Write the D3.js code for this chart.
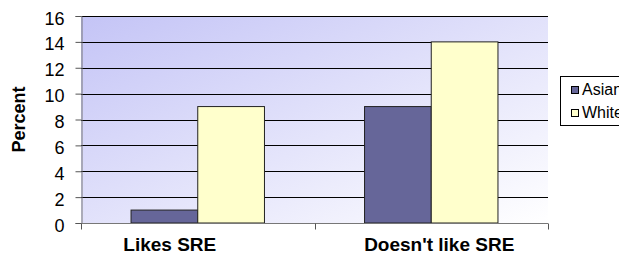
<!DOCTYPE html>
<html>
<head>
<meta charset="utf-8">
<script src="https://cdn.jsdelivr.net/npm/d3@7"></script>
<style>
  body { margin: 0; background: #fff; overflow: hidden; }
  text { font-family: Arial, "Liberation Sans", sans-serif; }
</style>
</head>
<body>
<div id="chart"></div>
<script>
var categories = ["Likes SRE", "Doesn't like SRE"];
var seriesNames = ["Asian", "White"];
var asianValues = [1, 9];
var whiteValues = [9, 14];
var yTicks = [0, 2, 4, 6, 8, 10, 12, 14, 16];
var colors = ["#666699", "#ffffcc"];
// label shift from the category centre, as in the picture
var labelShift = [-28, 8];

var width = 619, height = 262;
var plotLeft = 81, plotRight = 548, plotTop = 16, plotBottom = 223;

var svg = d3.select("#chart")
    .append("svg")
      .attr("width", width)
      .attr("height", height);

var defs = svg.append("defs");
var grad = defs.append("linearGradient")
    .attr("id", "bg")
    .attr("x1", "0%").attr("y1", "0%")
    .attr("x2", "100%").attr("y2", "100%");
grad.append("stop").attr("offset", "0%").attr("stop-color", "#c4c4f6");
grad.append("stop").attr("offset", "100%").attr("stop-color", "#ffffff");

svg.append("rect")
    .attr("x", plotLeft).attr("y", plotTop)
    .attr("width", plotRight - plotLeft).attr("height", plotBottom - plotTop)
    .style("fill", "url(#bg)");

var x0 = d3.scaleBand()
    .domain(categories)
    .range([plotLeft, plotRight])
    .paddingInner(0).paddingOuter(0);

var bw = x0.bandwidth() / 3.5;
var x1 = d3.scaleBand()
    .domain(seriesNames)
    .range([x0.bandwidth() / 2 - bw, x0.bandwidth() / 2 + bw]);

var y = d3.scaleLinear().domain([0, 16]).range([plotBottom, plotTop]);

// gridlines
svg.append("g")
  .selectAll("line")
  .data(yTicks.filter(function(d) { return d > 0; }))
  .enter()
  .append("line")
    .attr("x1", plotLeft).attr("x2", plotRight)
    .attr("y1", function(d) { return Math.round(y(d)) + 0.5; })
    .attr("y2", function(d) { return Math.round(y(d)) + 0.5; })
    .style("stroke", "#000")
    .style("stroke-width", 1);

var data = categories.map(function(c, i) {
  return { cat: c, values: [asianValues[i], whiteValues[i]] };
});

var groups = svg.append("g")
  .selectAll("g")
  .data(data)
  .enter()
  .append("g")
    .attr("transform", function(d) { return "translate(" + x0(d.cat) + ",0)"; });

groups.selectAll("rect")
  .data(function(d) { return d.values.map(function(v, j) { return { name: seriesNames[j], v: v, j: j }; }); })
  .enter()
  .append("rect")
    .attr("x", function(d) { return x1(d.name); })
    .attr("y", function(d) { return y(d.v); })
    .attr("width", x1.bandwidth())
    .attr("height", function(d) { return plotBottom - y(d.v); })
    .style("fill", function(d) { return colors[d.j]; })
    .style("stroke", "#222")
    .style("stroke-width", 1);

// y axis
var yAxis = svg.append("g")
    .attr("transform", "translate(" + (plotLeft + 0.5) + ",0)")
    .call(d3.axisLeft(y).tickValues(yTicks).tickSize(6).tickPadding(11));
yAxis.select(".domain").attr("stroke", "#777");
yAxis.selectAll(".tick line").attr("stroke", "#555");
yAxis.selectAll("text")
    .style("font-size", "18px")
    .style("fill", "#000")
    .attr("dy", "0.45em");

// x axis
var xAxis = svg.append("g")
    .attr("transform", "translate(0," + (plotBottom + 0.5) + ")");
xAxis.append("line")
    .attr("x1", plotLeft).attr("x2", plotRight)
    .attr("stroke", "#777");
xAxis.selectAll("line.tk")
  .data([plotLeft, x0(categories[1]), plotRight])
  .enter()
  .append("line")
    .attr("class", "tk")
    .attr("x1", function(d) { return Math.round(d) + 0.5; })
    .attr("x2", function(d) { return Math.round(d) + 0.5; })
    .attr("y1", 0).attr("y2", 6)
    .attr("stroke", "#555");
xAxis.selectAll("text")
  .data(categories)
  .enter()
  .append("text")
    .attr("x", function(d, i) { return x0(d) + x0.bandwidth() / 2 + labelShift[i]; })
    .attr("y", 27)
    .attr("text-anchor", "middle")
    .style("font-size", "19px")
    .style("font-weight", "bold")
    .text(function(d) { return d; });

svg.append("text")
    .attr("transform", "translate(25," + ((plotTop + plotBottom) / 2) + ") rotate(-90)")
    .attr("text-anchor", "middle")
    .style("font-size", "18px")
    .style("font-weight", "bold")
    .text("Percent");

// legend (runs past the right edge of the picture)
var legend = svg.append("g");
legend.append("rect")
    .attr("x", 560.5).attr("y", 76.5)
    .attr("width", 80).attr("height", 49)
    .style("fill", "#fff")
    .style("stroke", "#000");
legend.selectAll("g")
  .data(seriesNames)
  .enter()
  .append("g")
    .attr("transform", function(d, i) { return "translate(571," + (86 + i * 23) + ")"; })
  .each(function(d, i) {
    var g = d3.select(this);
    g.append("rect")
      .attr("x", 0.5).attr("y", 0.5)
      .attr("width", 7).attr("height", 7)
      .style("fill", colors[i])
      .style("stroke", "#000");
    g.append("text")
      .attr("x", 11).attr("y", 9)
      .style("font-size", "16px")
      .text(d);
  });
</script>
</body>
</html>
